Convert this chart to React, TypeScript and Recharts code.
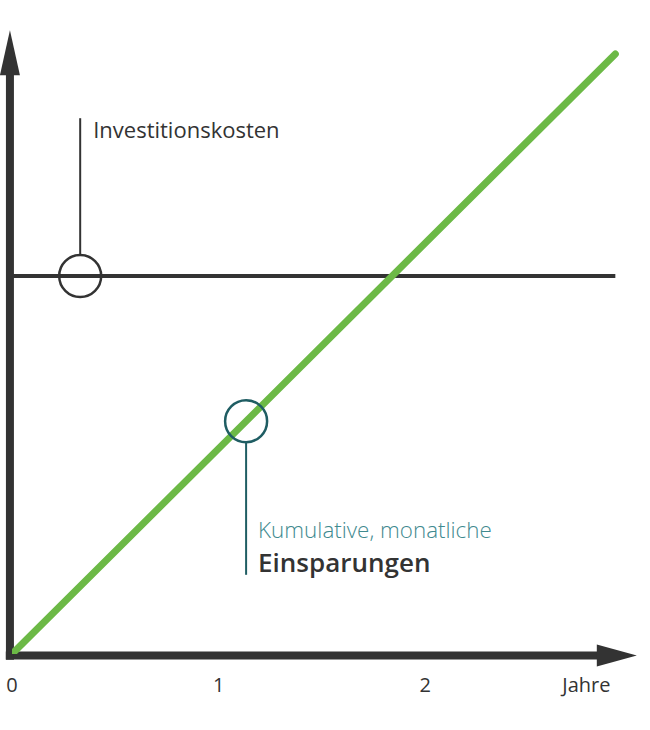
import React from 'react';
import {
    ComposedChart,
    Line,
    XAxis,
    YAxis,
    ReferenceDot,
    ReferenceLine,
} from 'recharts';

// Jahre (x) und Werte (y, willkürliche Einheiten)
const years = [0, 2.92];
const savings = [0, 100];
const investment = [63, 63];

const xTicks = [0, 1, 2, 2.78];
const xTickLabels = ['0', '1', '2', 'Jahre'];

// Markierungen: [Jahr, Wert]
const investMarker = [0.33, 63];
const savingsMarker = [1.133, 38.8];
const investLeaderTop = 89.3;
const savingsLeaderBottom = 13.2;

// Achsen mit Pfeilspitzen (Datenkoordinaten)
const X_MAX = 3.02;
const Y_MAX = 104;
const xArrowBase = 2.84;
const yArrowBase = 96.8;
const xAxisAt = -0.25;
const yAxisAt = -0.01;

const DARK = '#333333';
const GREEN = '#6cb946';
const TEAL = '#1f5d63';
const TEAL_TEXT = '#3f8a8f';
const FONT = '"Open Sans", Lato, sans-serif';

const data = years.map((x, i) => ({ x, savings: savings[i], investment: investment[i] }));

const ArrowRight = (p: any) => (
    <polygon points={`${p.cx - 2},${p.cy - 11} ${p.cx + 38},${p.cy} ${p.cx - 2},${p.cy + 11}`} fill={DARK} />
);
const ArrowUp = (p: any) => (
    <polygon points={`${p.cx - 10},${p.cy + 2} ${p.cx},${p.cy - 43} ${p.cx + 10},${p.cy + 2}`} fill={DARK} />
);

export default function App() {
    return (
        <div style={{ position: 'absolute', left: 0, top: 0, width: 650, height: 730, background: '#fff' }}>
            <ComposedChart
                width={650}
                height={730}
                data={data}
                margin={{ top: 30, right: 14, left: 12, bottom: 0 }}
            >
                <XAxis
                    dataKey="x"
                    type="number"
                    domain={[0, X_MAX]}
                    ticks={xTicks}
                    tickFormatter={(v: number) => xTickLabels[xTicks.indexOf(v)]}
                    tickLine={false}
                    axisLine={false}
                    tick={{ fill: DARK, fontSize: 20, fontFamily: FONT }}
                    tickMargin={18}
                    height={76}
                    interval={0}
                    allowDataOverflow
                />
                <YAxis
                    type="number"
                    domain={[0, Y_MAX]}
                    tick={false}
                    tickLine={false}
                    axisLine={false}
                    width={0}
                    allowDataOverflow
                />

                {/* Achsen */}
                <ReferenceLine
                    segment={[{ x: yAxisAt - 0.02, y: xAxisAt }, { x: xArrowBase, y: xAxisAt }]}
                    stroke={DARK}
                    strokeWidth={8}
                    ifOverflow="visible"
                />
                <ReferenceLine
                    segment={[{ x: yAxisAt, y: xAxisAt - 0.7 }, { x: yAxisAt, y: yArrowBase }]}
                    stroke={DARK}
                    strokeWidth={8}
                    ifOverflow="visible"
                />
                <ReferenceDot x={xArrowBase} y={xAxisAt} r={0} ifOverflow="visible" shape={ArrowRight} />
                <ReferenceDot x={yAxisAt} y={yArrowBase} r={0} ifOverflow="visible" shape={ArrowUp} />

                <Line
                    dataKey="investment"
                    stroke={DARK}
                    strokeWidth={4}
                    dot={false}
                    activeDot={false}
                    isAnimationActive={false}
                />
                <Line
                    dataKey="savings"
                    stroke={GREEN}
                    strokeWidth={7}
                    strokeLinecap="round"
                    dot={false}
                    activeDot={false}
                    isAnimationActive={false}
                />

                {/* Investitionskosten */}
                <ReferenceLine
                    segment={[{ x: investMarker[0], y: investMarker[1] + 3.5 }, { x: investMarker[0], y: investLeaderTop }]}
                    stroke={DARK}
                    strokeWidth={2}
                    ifOverflow="visible"
                />
                <ReferenceDot
                    x={investMarker[0]}
                    y={investMarker[1]}
                    r={21}
                    fill="none"
                    stroke={DARK}
                    strokeWidth={2.5}
                    ifOverflow="visible"
                />
                <ReferenceDot
                    x={investMarker[0]}
                    y={investLeaderTop}
                    r={0}
                    ifOverflow="visible"
                    shape={(p: any) => (
                        <text x={p.cx + 13} y={p.cy + 20} fill={DARK} fontSize={22} fontFamily={FONT}>
                            Investitionskosten
                        </text>
                    )}
                />

                {/* Einsparungen */}
                <ReferenceLine
                    segment={[{ x: savingsMarker[0], y: savingsMarker[1] - 3.5 }, { x: savingsMarker[0], y: savingsLeaderBottom }]}
                    stroke={TEAL}
                    strokeWidth={2}
                    ifOverflow="visible"
                />
                <ReferenceDot
                    x={savingsMarker[0]}
                    y={savingsMarker[1]}
                    r={21}
                    fill="none"
                    stroke={TEAL}
                    strokeWidth={2.5}
                    ifOverflow="visible"
                />
                <ReferenceDot
                    x={savingsMarker[0]}
                    y={savingsLeaderBottom}
                    r={0}
                    ifOverflow="visible"
                    shape={(p: any) => (
                        <g>
                            <text x={p.cx + 12} y={p.cy - 37} fill={TEAL_TEXT} fontSize={22.4} fontFamily={FONT} fontWeight={300}>
                                Kumulative, monatliche
                            </text>
                            <text x={p.cx + 12} y={p.cy - 3} fill={DARK} fontSize={26} fontFamily={FONT} fontWeight={600}>
                                Einsparungen
                            </text>
                        </g>
                    )}
                />
            </ComposedChart>
        </div>
    );
}
